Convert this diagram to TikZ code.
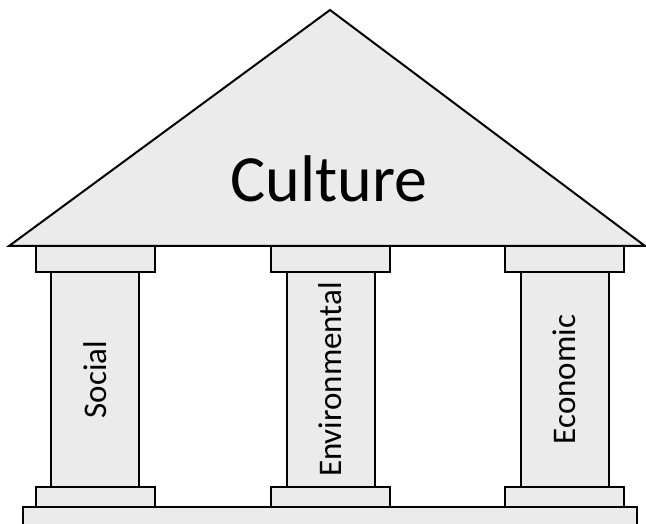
\documentclass[tikz,border=0pt]{standalone}
\usepackage{fontspec}
\setmainfont{Carlito}
\usepackage{tikz}
\usepackage{xcolor}
\usetikzlibrary{positioning}

\definecolor{stone}{HTML}{EBEBEB}

\begin{document}
\begin{tikzpicture}[x=1pt, y=1pt, line width=2pt,
    part/.style={draw, fill=stone, outer sep=0pt, inner sep=0pt},
    shaft/.style={part, minimum width=88pt, minimum height=215pt},
    capital/.style={part, minimum width=119pt, minimum height=26pt},
    plinth/.style={part, minimum width=119pt, minimum height=20pt},
    pillarlabel/.style={rotate=90, font=\fontsize{33}{36}\selectfont}]
        \useasboundingbox (0,0) rectangle (646,524);

        % Roof
        \draw [fill=stone, line join=miter] (9,278) -- (330,514) -- (645,278) -- cycle;
        \node [anchor=base, font=\fontsize{66}{70}\selectfont] (culture) at (329,322) {Culture};

        % Social
        \node [shaft] (social) at (95,144.5) {};
        \node [capital, above=0pt of social] (socialtop) {};
        \node [plinth, below=0pt of social] (socialfoot) {};
        \node [pillarlabel] (sociallabel) at (social) {Social};

        % Environmental
        \node [shaft] (environ) at (330.5,144.5) {};
        \node [capital, above=0pt of environ] (environtop) {};
        \node [plinth, below=0pt of environ] (environfoot) {};
        \node [pillarlabel] (environlabel) at (environ) {Environmental};

        % Economic
        \node [shaft] (econ) at (564.5,144.5) {};
        \node [capital, above=0pt of econ] (econtop) {};
        \node [plinth, below=0pt of econ] (econfoot) {};
        \node [pillarlabel] (econlabel) at (econ) {Economic};

        % Stylobate
        \node [part, minimum width=614pt, minimum height=30pt, anchor=north west] (ground) at (23,17) {};
    \end{tikzpicture}
\end{document}
